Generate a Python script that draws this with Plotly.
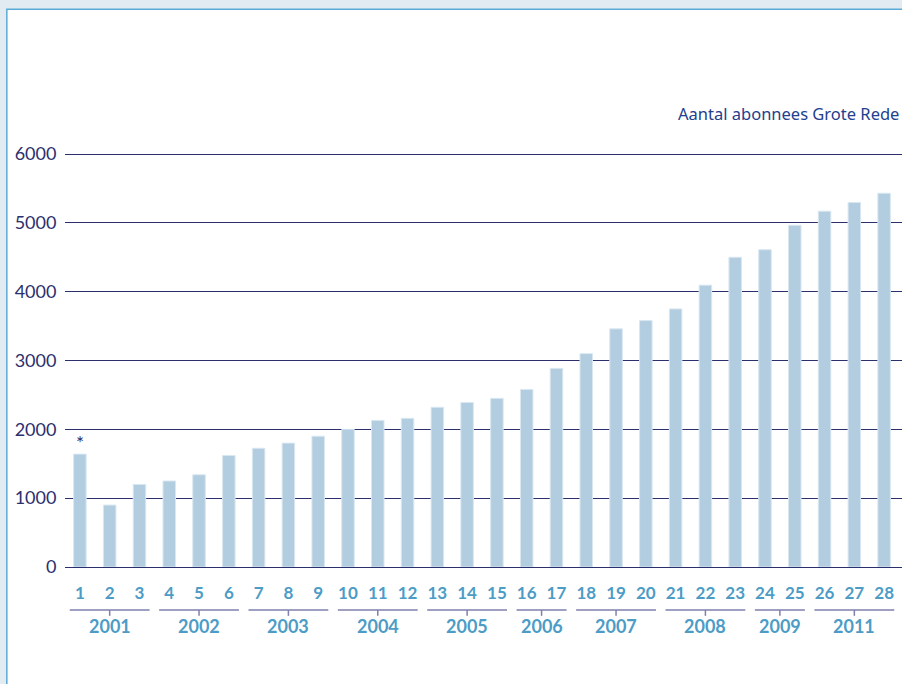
import plotly.graph_objects as go

# Data
periods = list(range(1, 29))
subscribers = [1640, 900, 1200, 1250, 1340, 1620, 1725, 1800, 1900, 2000,
               2130, 2160, 2320, 2390, 2450, 2580, 2885, 3100, 3460, 3580,
               3750, 4095, 4500, 4610, 4965, 5170, 5295, 5430]
years = ["2001", "2002", "2003", "2004", "2005", "2006", "2007", "2008", "2009", "2011"]
year_first = [1, 4, 7, 10, 13, 16, 18, 21, 24, 26]
year_last = [3, 6, 9, 12, 15, 17, 20, 23, 25, 28]
y_ticks = [0, 1000, 2000, 3000, 4000, 5000, 6000]

NAVY = "#2b2f6e"
TEAL = "#4c9cc6"
BAR = "#b2cde0"
BRACKET = "#7f7fae"
FONT = "Lato, sans-serif"

fig = go.Figure()

fig.add_trace(go.Bar(
    x=periods, y=subscribers,
    width=0.42,
    marker=dict(color=BAR, line=dict(color="#d9e7f1", width=1)),
    hoverinfo="x+y",
))

# asterisk above first bar
fig.add_annotation(x=periods[0], y=subscribers[0], text="*", showarrow=False,
                   yanchor="bottom", yshift=-2,
                   font=dict(size=19, color=NAVY, family=FONT))

# year brackets below the period numbers
for yr, a, b in zip(years, year_first, year_last):
    mid = (a + b) / 2
    fig.add_shape(type="line", xref="x", yref="paper",
                  x0=a - 0.34, x1=b + 0.34, y0=-0.104, y1=-0.104,
                  line=dict(color=BRACKET, width=1.5))
    fig.add_shape(type="line", xref="x", yref="paper",
                  x0=mid, x1=mid, y0=-0.104, y1=-0.118,
                  line=dict(color=BRACKET, width=1.5))
    fig.add_annotation(x=mid, xref="x", y=-0.142, yref="paper", text=f"<b>{yr}</b>",
                       showarrow=False, yanchor="middle",
                       font=dict(size=18, color=TEAL, family=FONT))

# page frame: light border with blue edge on the left and top
fig.add_shape(type="rect", xref="paper", yref="paper", layer="below",
              x0=-0.0695, x1=1.2, y0=-0.6, y1=1.347,
              fillcolor="white", line=dict(color="#5aaad6", width=1.5))

fig.add_annotation(x=0.999, xref="paper", y=1.095, yref="paper",
                   text="Aantal abonnees Grote Rede", showarrow=False,
                   xanchor="right", yanchor="middle",
                   font=dict(size=16.5, color="#23408e", family="Noto Sans, sans-serif"))

fig.update_layout(
    width=902, height=684,
    margin=dict(l=65, r=0, t=153, b=117),
    paper_bgcolor="#e3ebf2",
    plot_bgcolor="rgba(0,0,0,0)",
    showlegend=False,
    bargap=0.6,
    xaxis=dict(
        range=[0.5, 28.6],
        tickvals=periods,
        ticktext=[f"<b>{p}</b>" for p in periods],
        tickfont=dict(size=17, color=TEAL, family=FONT),
        ticks="outside", ticklen=11, tickcolor="rgba(0,0,0,0)",
        showgrid=False, zeroline=False, showline=False,
    ),
    yaxis=dict(
        range=[0, 6015],
        tickvals=y_ticks,
        tickfont=dict(size=18, color=NAVY, family=FONT),
        gridcolor=NAVY, gridwidth=1.2,
        zeroline=True, zerolinecolor=NAVY, zerolinewidth=1.2,
        ticks="outside", ticklen=4, tickcolor="rgba(0,0,0,0)",
        showline=False,
    ),
)

fig.write_html("out.html", config={"displayModeBar": False},
               post_script="document.body.style.margin='0';document.body.style.overflow='hidden';")
